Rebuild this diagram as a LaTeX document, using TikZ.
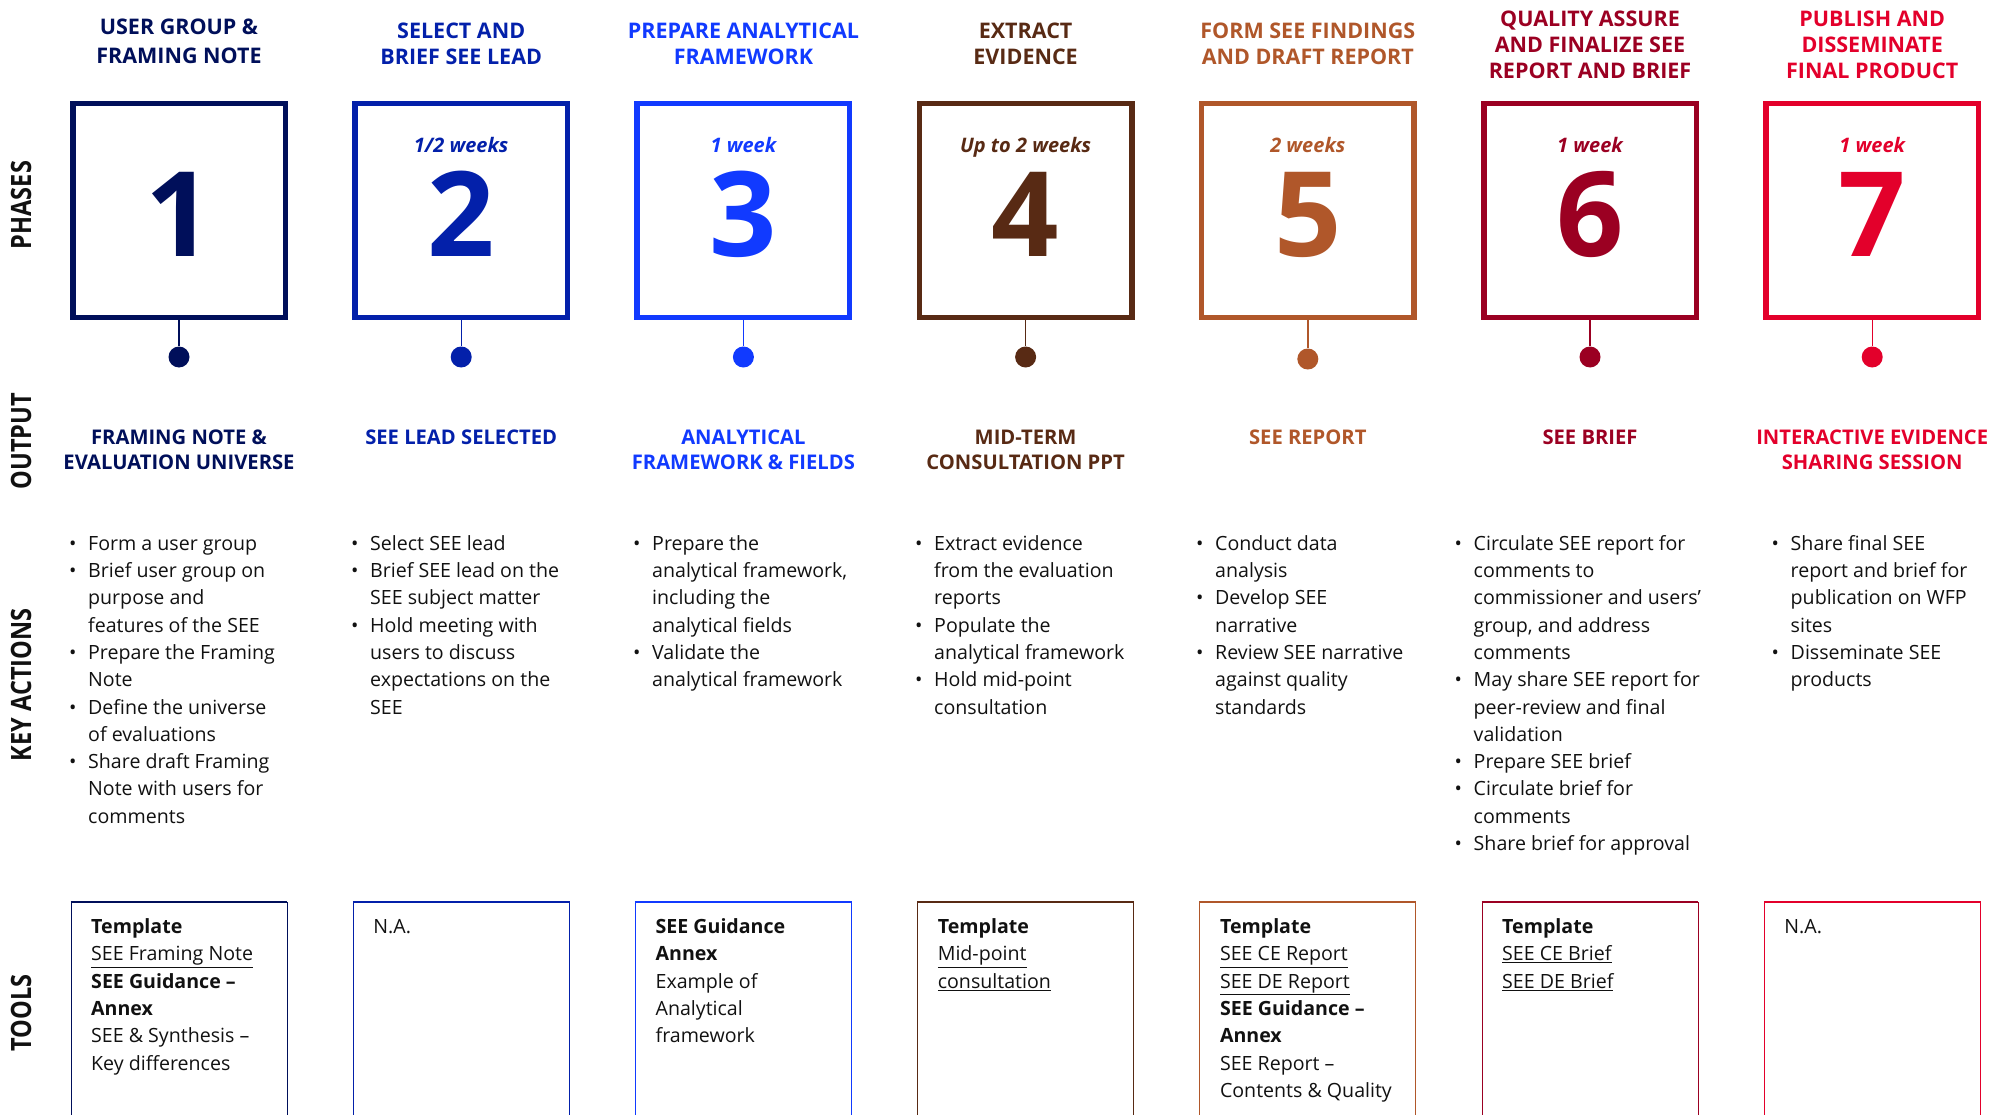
\documentclass[tikz,border=0pt]{standalone}
\usepackage{fontspec}
\setmainfont{Open Sans}

% phase colours
\definecolor{cA}{HTML}{000F5A}
\definecolor{cB}{HTML}{0320AA}
\definecolor{cC}{HTML}{113AFF}
\definecolor{cD}{HTML}{582A14}
\definecolor{cE}{HTML}{B0572A}
\definecolor{cF}{HTML}{9B0022}
\definecolor{cG}{HTML}{E3002B}
\definecolor{ink}{HTML}{111111}

\newcommand\titlefont{\fontsize{21.5pt}{26pt}\selectfont\bfseries}
\newcommand\outfont{\fontsize{20.2pt}{25pt}\selectfont\bfseries}
\newcommand\bodyfont{\fontsize{19.6pt}{27.3pt}\selectfont}
\newcommand\durfont{\fontsize{20pt}{24pt}\selectfont\bfseries\itshape}
\newcommand\digitfont{\fontsize{118pt}{118pt}\selectfont\bfseries}
\newcommand\rowfont{\fontsize{28pt}{30pt}\selectfont\bfseries}

% line helpers: bullet item, continuation indent, strut
\newcommand\tstrut{\rule{0pt}{16pt}}
\newcommand\bl{\makebox[19pt][l]{\tstrut\textbullet}}
\newcommand\ind{\hspace*{19pt}\tstrut}
\newcommand\rowlabel[1]{\scalebox{0.84}[1]{#1}}

\tikzset{
  phbox/.style={draw, line width=5.5pt, minimum width=212.5pt, minimum height=213.5pt, inner sep=0pt},
  dotnode/.style={circle, fill, inner sep=0pt, minimum size=21pt},
  stem/.style={line width=1.4pt},
  titletext/.style={anchor=north, align=center, inner sep=0pt, font=\titlefont},
  outtext/.style={anchor=north, align=center, inner sep=0pt, font=\outfont},
  durtext/.style={anchor=base, inner sep=0pt, font=\durfont},
  digittext/.style={anchor=base, inner sep=0pt, font=\digitfont},
  acttext/.style={anchor=north west, align=left, inner sep=0pt, font=\bodyfont, text=ink},
  tooltext/.style={anchor=north west, align=left, inner sep=0pt, font=\bodyfont, text=ink},
  toolframe/.style={line width=0.9pt},
  tooltop/.style={line width=1.8pt},
  rowtext/.style={rotate=90, inner sep=0pt, font=\rowfont, text=ink}
}

% open-bottomed tool frame: #1 left x, #2 right x
\newcommand\toolbox[2]{%
  \draw[toolframe] (#1,1115) -- (#1,902);
  \draw[toolframe] (#2,1115) -- (#2,902);
  \draw[tooltop] (#1-0.45,902) -- (#2+0.45,902);
}

\begin{document}
\begin{tikzpicture}[x=1pt, y=-1pt]
\useasboundingbox (0,0) rectangle (2004,1115);

% row labels
\node[rowtext] (rPh) at (21,205) {\rowlabel{PHASES}};
\node[rowtext] (rOut) at (21,441) {\rowlabel{OUTPUT}};
\node[rowtext] (rAct) at (21,685) {\rowlabel{KEY ACTIONS}};
\node[rowtext] (rTool) at (21,1013) {\rowlabel{TOOLS}};

% ---------- phase 1 ----------
\begin{scope}[cA]
\node[titletext, font=\fontsize{21.5pt}{29pt}\selectfont\bfseries] (t1) at (179,18.3) {\tstrut USER GROUP \&\\FRAMING NOTE};
\node[phbox] (p1) at (179,210.5) {};
\node[digittext] (n1) at (179,257) {1};
\node[dotnode] (d1) at (179,357) {};
\draw[stem] (p1.south) -- (d1);
\node[outtext] (o1) at (179,428.3) {\tstrut FRAMING NOTE \&\\EVALUATION UNIVERSE};
\toolbox{71}{287}
\end{scope}
\node[acttext] (a1) at (69,534) {\bl Form a user group\\\bl Brief user group on\\\ind purpose and\\\ind features of the SEE\\\bl Prepare the Framing\\\ind Note\\\bl Define the universe\\\ind of evaluations\\\bl Share draft Framing\\\ind Note with users for\\\ind comments};
\node[tooltext] (k1) at (91,917.3) {\tstrut\textbf{Template}\\\tstrut\underline{SEE Framing Note}\\\tstrut\textbf{SEE Guidance --}\\\tstrut\textbf{Annex}\\\tstrut SEE \& Synthesis --\\\tstrut Key differences};

% ---------- phase 2 ----------
\begin{scope}[cB]
\node[titletext] (t2) at (461.2,22.3) {\tstrut SELECT AND\\BRIEF SEE LEAD};
\node[phbox] (p2) at (461.2,210.5) {};
\node[durtext] (w2) at (461.2,153) {1/2 weeks};
\node[digittext] (n2) at (461.2,257) {2};
\node[dotnode] (d2) at (461.2,357) {};
\draw[stem] (p2.south) -- (d2);
\node[outtext] (o2) at (461.2,428.3) {\tstrut SEE LEAD SELECTED};
\toolbox{353.2}{569.2}
\end{scope}
\node[acttext] (a2) at (351,534) {\bl Select SEE lead\\\bl Brief SEE lead on the\\\ind SEE subject matter\\\bl Hold meeting with\\\ind users to discuss\\\ind expectations on the\\\ind SEE};
\node[tooltext] (k2) at (373.2,917.3) {\tstrut N.A.};

% ---------- phase 3 ----------
\begin{scope}[cC]
\node[titletext] (t3) at (743.4,22.3) {\tstrut PREPARE ANALYTICAL\\FRAMEWORK};
\node[phbox] (p3) at (743.4,210.5) {};
\node[durtext] (w3) at (743.4,153) {1 week};
\node[digittext] (n3) at (743.4,257) {3};
\node[dotnode] (d3) at (743.4,357) {};
\draw[stem] (p3.south) -- (d3);
\node[outtext] (o3) at (743.4,428.3) {\tstrut ANALYTICAL\\FRAMEWORK \& FIELDS};
\toolbox{635.4}{851.4}
\end{scope}
\node[acttext] (a3) at (633,534) {\bl Prepare the\\\ind analytical framework,\\\ind including the\\\ind analytical fields\\\bl Validate the\\\ind analytical framework};
\node[tooltext] (k3) at (655.4,917.3) {\tstrut\textbf{SEE Guidance}\\\tstrut\textbf{Annex}\\\tstrut Example of\\\tstrut Analytical\\\tstrut framework};

% ---------- phase 4 ----------
\begin{scope}[cD]
\node[titletext] (t4) at (1025.6,22.3) {\tstrut EXTRACT\\EVIDENCE};
\node[phbox] (p4) at (1025.6,210.5) {};
\node[durtext] (w4) at (1025.6,153) {Up to 2 weeks};
\node[digittext] (n4) at (1025.6,257) {4};
\node[dotnode] (d4) at (1025.6,357) {};
\draw[stem] (p4.south) -- (d4);
\node[outtext] (o4) at (1025.6,428.3) {\tstrut MID-TERM\\CONSULTATION PPT};
\toolbox{917.6}{1133.6}
\end{scope}
\node[acttext] (a4) at (915,534) {\bl Extract evidence\\\ind from the evaluation\\\ind reports\\\bl Populate the\\\ind analytical framework\\\bl Hold mid-point\\\ind consultation};
\node[tooltext] (k4) at (937.6,917.3) {\tstrut\textbf{Template}\\\tstrut\underline{Mid-point}\\\tstrut\underline{consultation}};

% ---------- phase 5 ----------
\begin{scope}[cE]
\node[titletext] (t5) at (1307.8,22.3) {\tstrut FORM SEE FINDINGS\\AND DRAFT REPORT};
\node[phbox] (p5) at (1307.8,210.5) {};
\node[durtext] (w5) at (1307.8,153) {2 weeks};
\node[digittext] (n5) at (1307.8,257) {5};
\node[dotnode] (d5) at (1307.8,359) {};
\draw[stem] (p5.south) -- (d5);
\node[outtext] (o5) at (1307.8,428.3) {\tstrut SEE REPORT};
\toolbox{1199.8}{1415.8}
\end{scope}
\node[acttext] (a5) at (1196,534) {\bl Conduct data\\\ind analysis\\\bl Develop SEE\\\ind narrative\\\bl Review SEE narrative\\\ind against quality\\\ind standards};
\node[tooltext] (k5) at (1219.8,917.3) {\tstrut\textbf{Template}\\\tstrut\underline{SEE CE Report}\\\tstrut\underline{SEE DE Report}\\\tstrut\textbf{SEE Guidance --}\\\tstrut\textbf{Annex}\\\tstrut SEE Report --\\\tstrut Contents \& Quality};

% ---------- phase 6 ----------
\begin{scope}[cF]
\node[titletext] (t6) at (1590,10) {\tstrut QUALITY ASSURE\\AND FINALIZE SEE\\REPORT AND BRIEF};
\node[phbox] (p6) at (1590,210.5) {};
\node[durtext] (w6) at (1590,153) {1 week};
\node[digittext] (n6) at (1590,257) {6};
\node[dotnode] (d6) at (1590,357) {};
\draw[stem] (p6.south) -- (d6);
\node[outtext] (o6) at (1590,428.3) {\tstrut SEE BRIEF};
\toolbox{1482}{1698}
\end{scope}
\node[acttext] (a6) at (1454.5,534) {\bl Circulate SEE report for\\\ind comments to\\\ind commissioner and users'\\\ind group, and address\\\ind comments\\\bl May share SEE report for\\\ind peer-review and final\\\ind validation\\\bl Prepare SEE brief\\\bl Circulate brief for\\\ind comments\\\bl Share brief for approval};
\node[tooltext] (k6) at (1502,917.3) {\tstrut\textbf{Template}\\\tstrut\underline{SEE CE Brief}\\\tstrut\underline{SEE DE Brief}};

% ---------- phase 7 ----------
\begin{scope}[cG]
\node[titletext] (t7) at (1872.2,10) {\tstrut PUBLISH AND\\DISSEMINATE\\FINAL PRODUCT};
\node[phbox] (p7) at (1872.2,210.5) {};
\node[durtext] (w7) at (1872.2,153) {1 week};
\node[digittext] (n7) at (1872.2,257) {7};
\node[dotnode] (d7) at (1872.2,357) {};
\draw[stem] (p7.south) -- (d7);
\node[outtext] (o7) at (1872.2,428.3) {\tstrut INTERACTIVE EVIDENCE\\SHARING SESSION};
\toolbox{1764.2}{1980.2}
\end{scope}
\node[acttext] (a7) at (1771.5,534) {\bl Share final SEE\\\ind report and brief for\\\ind publication on WFP\\\ind sites\\\bl Disseminate SEE\\\ind products};
\node[tooltext] (k7) at (1784.2,917.3) {\tstrut N.A.};

\end{tikzpicture}
\end{document}
